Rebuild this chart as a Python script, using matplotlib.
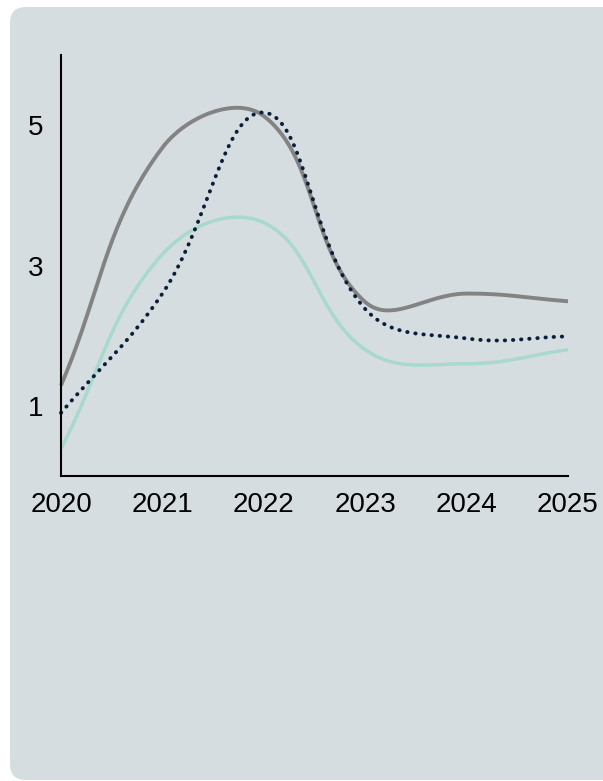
import matplotlib
matplotlib.use("Agg")
import numpy as np
import matplotlib.pyplot as plt
import matplotlib.patches as mpatches
from matplotlib.path import Path
from matplotlib.transforms import IdentityTransform

years = [2020, 2021, 2022, 2023, 2024, 2025]

series_gray = [1.29, 4.68, 5.13, 2.48, 2.60, 2.49]
series_teal = [0.39, 3.16, 3.61, 1.80, 1.60, 1.80]
series_dots = [0.90, 2.60, 5.18, 2.38, 1.96, 1.99]

value_ticks = [1, 3, 5]

PANEL = "#d6dde0"
GRAY = "#838383"
TEAL = "#a7dacd"
NAVY = "#0b1f3a"


def spline_xy(ax, xs, ys, tension=0.4):
    # bezier control points from neighbour distances in screen space,
    # clamped to the plot area, then mapped back to data units
    pts = ax.transData.transform(np.column_stack([xs, ys]))
    box = ax.get_window_extent()
    n = len(pts)
    before, after = [], []
    for i in range(n):
        prev = pts[max(i - 1, 0)]
        cur = pts[i]
        nxt = pts[min(i + 1, n - 1)]
        d01 = np.hypot(*(cur - prev))
        d12 = np.hypot(*(nxt - cur))
        s01 = d01 / (d01 + d12)
        s12 = d12 / (d01 + d12)
        before.append(cur - tension * s01 * (nxt - prev))
        after.append(cur + tension * s12 * (nxt - prev))
    verts = [pts[0]]
    codes = [Path.MOVETO]
    for i in range(1, n):
        verts += [after[i - 1], before[i], pts[i]]
        codes += [Path.CURVE4] * 3
    verts = np.array(verts)
    verts[:, 0] = np.clip(verts[:, 0], box.x0, box.x1)
    verts[:, 1] = np.clip(verts[:, 1], box.y0, box.y1)
    path = Path(ax.transData.inverted().transform(verts), codes)
    t = np.linspace(0, 1, 40)
    curve = np.concatenate([seg(t) for seg, code in path.iter_bezier()
                            if code == Path.CURVE4])
    return curve[:, 0], curve[:, 1]


plt.rcParams['font.family'] = ['Liberation Sans', 'DejaVu Sans']

fig = plt.figure(figsize=(6.03, 7.81), dpi=100, facecolor="white")

# rounded card behind the chart (pixel coords)
card = mpatches.FancyBboxPatch((10, 1), 640, 773,
                               boxstyle="round,pad=0,rounding_size=16",
                               facecolor=PANEL, edgecolor="none",
                               transform=IdentityTransform(), zorder=-10)
fig.patches.append(card)

ax = fig.add_axes([61 / 603, 1 - 476 / 781, (568 - 61) / 603, (476 - 55) / 781])
ax.set_facecolor("none")
ax.set_xlim(2020, 2025)
ax.set_ylim(0, 6)

ax.plot(*spline_xy(ax, years, series_teal), color=TEAL, lw=2.5,
        solid_capstyle="butt", clip_on=False)
ax.plot(*spline_xy(ax, years, series_gray), color=GRAY, lw=2.8,
        solid_capstyle="butt", clip_on=False)
ax.plot(*spline_xy(ax, years, series_dots), color=NAVY, lw=2.8,
        linestyle=(0, (0.1, 2.0)), dash_capstyle="round", clip_on=False)

for side in ["top", "right"]:
    ax.spines[side].set_visible(False)
for side in ["left", "bottom"]:
    ax.spines[side].set_linewidth(1.5)
    ax.spines[side].set_color("black")

ax.set_xticks(years)
ax.set_xticklabels([str(y) for y in years])
ax.set_yticks(value_ticks)
ax.set_yticklabels([str(v) for v in value_ticks])
ax.tick_params(axis="x", length=0, pad=11.5, labelsize=20, colors="black")
ax.tick_params(axis="y", length=0, pad=13, labelsize=20, colors="black")

fig.savefig("out.png", dpi=100, facecolor="white")
